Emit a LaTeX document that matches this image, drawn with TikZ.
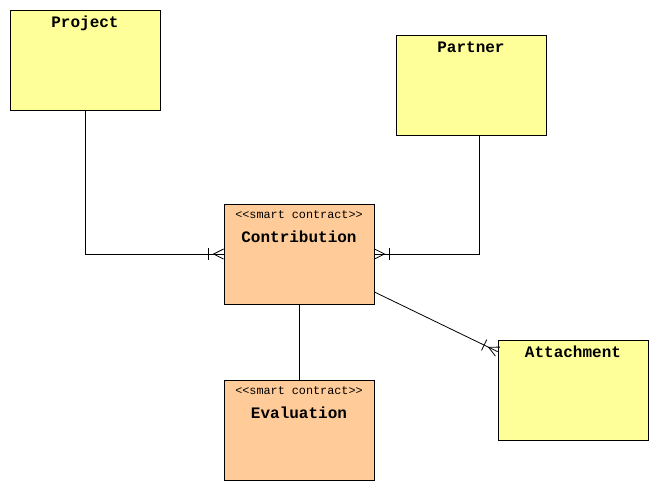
\documentclass[tikz,border=0pt]{standalone}
\usepackage{fontspec}
\setmonofont{Liberation Mono}
\usetikzlibrary{calc}
\definecolor{entfill}{HTML}{FFFF99}
\definecolor{scfill}{HTML}{FFCC99}
\tikzset{
  entity/.style={draw, fill=entfill, minimum width=150pt, minimum height=100pt, inner sep=0pt, line width=0.8pt},
  contract/.style={entity, fill=scfill},
  ttl/.style={font=\ttfamily\bfseries\fontsize{16}{16}\selectfont, inner sep=0pt, anchor=base},
  stereo/.style={font=\ttfamily\fontsize{11.8}{12}\selectfont, inner sep=0pt, anchor=base},
  conn/.style={line width=0.8pt},
}
\newcommand{\onemany}[2]{%
  \coordinate (tmpB) at ($(#1)!15pt!(#2)$);
  \draw[conn] ($(#1)!5pt!90:(#2)$) -- ($(#1)!10pt!(#2)$) -- ($(#1)!5pt!-90:(#2)$);
  \draw[conn] ($(tmpB)!6pt!90:(#1)$) -- ($(tmpB)!6pt!-90:(#1)$);
}
\begin{document}
\begin{tikzpicture}[x=1pt,y=-1pt]
\useasboundingbox (0,0) rectangle (659,490);
% boxes
\node[entity] (Project) at (85,60) {};
\node[entity] (Partner) at (471,85) {};
\node[contract] (Contribution) at (299,254) {};
\node[contract] (Evaluation) at (299,430) {};
\node[entity] (Attachment) at (573,390) {};
% texts
\node[ttl] (tProject) at (85,27) {Project};
\node[ttl] (tPartner) at (471,52) {Partner};
\node[stereo] (sContribution) at (299,218) {<{}<smart contract>{}>};
\node[ttl] (tContribution) at (299,242) {Contribution};
\node[stereo] (sEvaluation) at (299,394) {<{}<smart contract>{}>};
\node[ttl] (tEvaluation) at (299,418) {Evaluation};
\node[ttl] (tAttachment) at (573,357) {Attachment};
% connector anchors
\coordinate (pj) at (Project.south);
\coordinate (pt) at ($(Partner.south)+(8,0)$);
\coordinate (cw) at (Contribution.west);
\coordinate (ce) at (Contribution.east);
\coordinate (cd) at ($(Contribution.east)+(0,38)$);
\coordinate (aw) at ($(Attachment.north west)+(0,12)$);
% connectors
\draw[conn] (pj) |- (cw);
\draw[conn] (pt) |- (ce);
\draw[conn] (cd) -- (aw);
\draw[conn] (Contribution.south) -- (Evaluation.north);
% crow's feet (one or many)
\onemany{cw}{pj |- cw}
\onemany{ce}{pt |- ce}
\onemany{aw}{cd}
\end{tikzpicture}
\end{document}
